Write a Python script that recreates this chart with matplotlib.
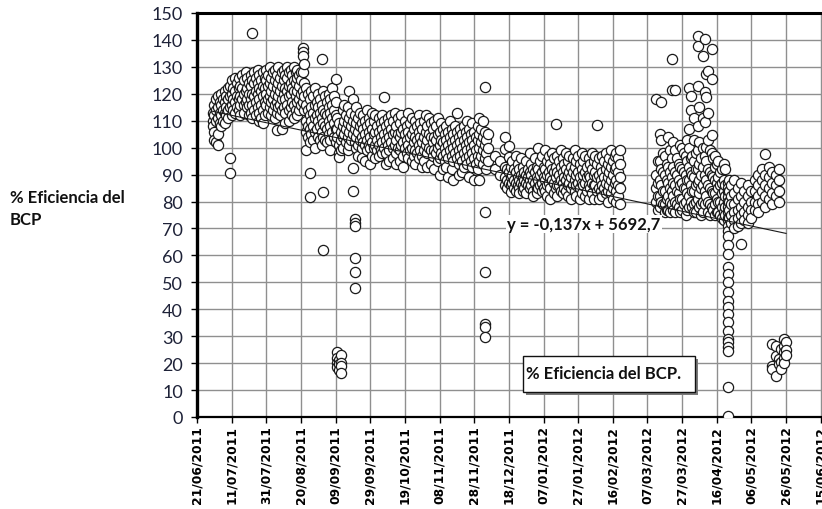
import numpy as np
import matplotlib
matplotlib.use("Agg")
import matplotlib.pyplot as plt
import matplotlib.dates as mdates
from matplotlib.patches import Rectangle

# ---- data: (days after 21/06/2011, [values of % efficiency]) ----
start_date = "2011-06-21"
tick_step_days = 20
n_ticks = 21

jul_2011 = [
    (9, [110, 113, 108]), (10, [116, 112, 106, 103]), (11, [118, 114, 110, 102]),
    (12, [119, 115, 111, 105, 101]), (13, [117, 113, 109]), (14, [120, 116, 112, 108]),
    (15, [118, 114, 110]), (16, [121, 117, 113, 109]), (17, [119, 115, 112]),
    (18, [122, 118, 114, 111]), (19, [123, 119, 115, 96, 90.5]), (20, [125, 120, 116, 112]),
    (21, [122, 118, 114]), (22, [126, 121, 117, 113]), (23, [124, 119, 115]),
    (24, [126, 122, 118, 114]), (25, [123, 119, 116, 112]), (26, [127, 122, 118]),
    (27, [125, 120, 116, 113]), (28, [128, 121, 117]), (29, [126, 122, 118, 115]),
    (30, [124, 120, 116, 112]),
]
aug_2011 = [
    (31, [127, 123, 118, 113]), (32, [142.5, 125, 120, 116, 111]), (33, [128, 124, 119, 114]),
    (34, [126, 121, 117, 112]), (35, [129, 124, 120, 115]), (36, [127, 122, 118, 113, 110]),
    (37, [125, 121, 116, 111]), (38, [128, 123, 119, 114, 109]), (39, [126, 122, 117, 112]),
    (40, [129, 125, 120, 116]), (41, [127, 123, 118, 113]), (42, [130, 124, 119, 115]),
    (43, [126, 121, 117, 112]), (44, [128, 123, 118, 114]), (45, [129, 125, 120, 116, 111]),
    (46, [127, 122, 117, 113, 106.5]), (47, [130, 124, 119, 115]), (48, [126, 121, 116, 112]),
    (49, [128, 123, 118, 114, 107]), (50, [129, 125, 120, 115]), (51, [127, 122, 118, 113, 109]),
    (52, [130, 126, 121, 116]), (53, [128, 123, 119, 114, 110]), (54, [129, 124, 120, 115]),
    (55, [127, 122, 117, 112]), (56, [130, 125, 121, 116, 111]), (57, [128, 124, 119, 114]),
    (58, [129, 126, 121, 117, 112]), (59, [127, 123, 118, 114]), (60, [128, 125, 120, 116]),
    (61, [137, 135.5, 134, 128, 121, 117]), (62, [131, 124, 119, 114]),
]
sep_2011 = [
    (63, [122, 116, 110, 106, 99]), (64, [120, 114, 108, 104]),
    (65, [118, 112, 107, 102, 90.6, 81.7]), (66, [121, 115, 110, 105]),
    (67, [119, 113, 108, 103]), (68, [122, 116, 111, 106, 100]), (69, [117, 112, 107]),
    (70, [120, 115, 110, 104]), (71, [118, 113, 108, 103]), (72, [133, 116, 111, 106, 101]),
    (73, [121, 114, 109, 104, 83.5, 62]), (74, [119, 113, 108, 103]), (75, [117, 112, 107, 102]),
    (76, [120, 115, 110, 105]), (77, [118, 113, 108, 103, 99]), (78, [122, 116, 111, 106]),
    (79, [119, 114, 109, 104]), (80, [125.5, 117, 112, 107, 102]),
    (81, [111, 107, 104, 24, 22, 20, 18.5]), (82, [109, 101, 98, 96.5, 21, 19.5, 17.5]),
    (83, [106, 103, 99, 23, 20, 19, 16.5]), (84, [114, 108, 104, 100]), (85, [116, 110, 105]),
    (86, [112, 107, 102]), (87, [115, 109, 104, 99]), (88, [121, 111, 106, 101]),
    (89, [113, 108, 103]), (90, [118, 110, 105, 92.5, 84]),
    (91, [112, 107, 102, 73.5, 72, 71, 59, 54, 48]), (92, [115, 109, 104, 100]),
]
oct_2011 = [
    (93, [111, 106, 101, 97]), (94, [113, 108, 103]), (95, [109, 104, 100, 96]),
    (96, [112, 107, 102]), (97, [110, 105, 101, 95]), (98, [114, 108, 103, 99]),
    (99, [111, 106, 101]), (100, [109, 104, 100, 94]), (101, [113, 107, 102, 97]),
    (102, [110, 105, 100]), (103, [112, 106, 101, 96]), (104, [108, 103, 99]),
    (105, [111, 106, 101, 97]), (106, [109, 104, 99]), (107, [112, 107, 102, 98]),
    (108, [118.8, 110, 105, 100]), (109, [108, 103, 98, 94]), (110, [111, 106, 101]),
    (111, [109, 104, 99, 95]), (112, [112, 107, 102]), (113, [110, 105, 100, 96]),
    (114, [113, 106, 101]), (115, [108, 103, 98, 94]), (116, [111, 105, 100]),
    (117, [109, 104, 99, 95]), (118, [112, 106, 101]), (119, [107, 102, 97, 93]),
    (120, [110, 105, 100]), (121, [108, 103, 98]), (122, [113, 106, 101, 96]),
    (123, [109, 104, 99]), (124, [111, 105, 100, 95]), (125, [107, 102, 97]),
    (126, [110, 104, 99, 94]), (127, [108, 103, 98]), (128, [112, 106, 101, 96]),
    (129, [109, 104, 99]), (130, [107, 102, 97, 93]),
]
nov_2011 = [
    (131, [110, 104, 99, 95]), (132, [112, 106, 101]), (133, [108, 103, 98, 93]),
    (134, [111, 105, 100]), (135, [109, 104, 99, 94]), (136, [107, 102, 97]),
    (137, [110, 104, 99, 92]), (138, [108, 103, 98]), (139, [111, 105, 100, 95]),
    (140, [106, 101, 96, 90]), (141, [109, 103, 98]), (142, [107, 102, 97, 92]),
    (143, [105, 100, 95]), (144, [108, 103, 98, 93]), (145, [106, 101, 96, 89]),
    (146, [110, 104, 99]), (147, [107, 102, 97, 92]), (148, [105, 100, 95, 88]),
    (149, [108, 103, 98]), (150, [113, 106, 101, 96]), (151, [104, 99, 94, 90]),
    (152, [107, 102, 97]), (153, [105, 100, 95, 91]), (154, [108, 103, 98, 93]),
    (155, [106, 101, 96]), (156, [110, 104, 99, 94]), (157, [107, 102, 97, 89]),
    (158, [105, 100, 95]), (159, [109, 103, 98, 93]), (160, [106, 101, 96, 88]),
    (161, [104, 99, 94]), (162, [108, 103, 97, 92]), (163, [111, 105, 100, 95, 88]),
    (164, [107, 102, 97]), (165, [110, 104, 99, 94]),
    (166, [122.5, 106, 101, 96, 76, 54, 34.5, 33.5, 29.7]),
    (167, [103, 98, 92]), (168, [105, 100, 95]), (172, [97, 92]), (175, [95, 90]),
]
dec_2011_feb_2012 = [
    (178, [104, 99.5, 93, 89, 86]), (179, [92, 88, 85]), (180, [100.6, 96.6, 91, 87]),
    (181, [93, 89, 86, 83.5]), (182, [95, 90, 87]), (183, [92, 88, 85]),
    (184, [97, 91, 87, 84]), (185, [94, 89, 86]), (186, [92, 88, 85, 83]),
    (187, [96, 90, 87]), (188, [93, 89, 86, 84]), (189, [91, 88, 85]),
    (190, [95, 90, 87, 83]), (191, [92, 89, 86]), (192, [98, 91, 88, 85]),
    (193, [94, 90, 86]), (194, [92, 88, 84, 82]), (195, [96, 91, 87]),
    (196, [93, 89, 85, 83]), (197, [100, 92, 88, 85]), (198, [95, 90, 86]),
    (199, [97, 91, 87, 84]), (200, [93, 89, 85]), (201, [99, 92, 88, 84]),
    (202, [95, 90, 86, 82]), (203, [97, 91, 87]), (204, [94, 89, 85, 81]),
    (205, [98, 92, 88]), (206, [96, 91, 87, 83]), (207, [108.8, 93, 89, 85]),
    (208, [97, 91, 86, 82]), (209, [95, 90, 86]), (210, [99, 93, 88, 84]),
    (211, [96, 91, 87, 83]), (212, [94, 89, 85]), (213, [98, 92, 88, 84]),
    (214, [95, 90, 86, 82]), (215, [97, 91, 87]), (216, [93, 89, 85, 81]),
    (217, [96, 91, 86]), (218, [99, 93, 88, 84]), (219, [95, 90, 86, 82]),
    (220, [97, 91, 87]), (221, [94, 89, 85, 81]), (222, [98, 92, 87, 83]),
    (223, [95, 90, 86]), (224, [97, 91, 87, 82]), (225, [93, 89, 84]),
    (226, [96, 90, 86, 81]), (227, [94, 89, 85]), (228, [98, 92, 87, 83]),
    (229, [95, 90, 86, 81]), (230, [97, 91, 86]), (231, [108.5, 94, 89, 84]),
    (232, [96, 90, 85, 81]), (233, [93, 88, 84]), (234, [97, 91, 86, 82]),
    (235, [95, 89, 85]), (236, [98, 92, 87, 83]), (237, [94, 89, 84, 80]),
    (238, [96, 91, 86]), (239, [99, 93, 88, 83]), (240, [95, 90, 85, 81]),
    (241, [97, 92, 87]), (242, [98, 93, 88, 84, 80]), (243, [96, 91, 86, 82]),
    (244, [99, 94, 89, 85, 79]),
]
mar_apr_2012 = [
    (265, [118, 90, 85, 80]), (266, [95, 87, 82, 77]), (267, [105, 95, 88, 82, 78]),
    (268, [117, 103, 92, 86, 80]), (269, [98, 91, 84, 79]),
    (270, [97, 90, 84, 79, 76]), (271, [94, 88, 81, 77]), (272, [104, 93, 87, 82, 77]),
    (273, [99, 91, 85, 80, 76]), (274, [133, 121.5, 96, 89, 84, 79]),
    (275, [102, 93, 87, 82, 77]), (276, [121.5, 99, 91, 86, 80, 76]),
    (277, [96, 90, 84, 79]), (278, [94, 88, 83, 78]), (279, [101, 93, 86, 81, 76]),
    (280, [100, 92, 87, 81, 77]), (281, [98, 91, 85, 79]), (282, [97, 90, 85, 80, 75]),
    (283, [103, 95, 88, 83, 77]),
    (284, [122, 107, 100, 93, 88, 82, 78]), (285, [119, 114, 96, 91, 86, 80]),
    (286, [97, 90, 84, 78]),
    (287, [111, 103, 95, 89, 84, 79, 76]), (288, [98, 92, 86, 80, 76]),
    (289, [141.5, 137.8, 123, 108, 99, 92, 87, 81]),
    (290, [115, 102, 94, 88, 83, 78]), (291, [96, 90, 85, 79, 75]),
    (292, [134, 111, 100, 93, 86, 80, 76]),
    (293, [140.4, 120.7, 109.5, 97, 90, 84, 79]), (294, [127.4, 118.8, 100.3, 95, 88, 82]),
    (295, [128.5, 113, 103, 92, 86, 80, 76]), (296, [99, 91, 85, 79, 75]),
    (297, [136.6, 125.5, 104.7, 98, 90, 84, 78]), (298, [96, 89, 83, 77]),
    (299, [97, 93, 88, 83, 79, 75]), (300, [94, 87, 81, 76]),
    (301, [95, 89, 85, 80, 76]), (302, [91, 86, 80, 75]), (303, [92, 87, 83, 78, 74]),
]
apr_may_2012 = [
    (304, [94, 88, 84, 80, 76, 73]), (305, [92, 86, 82, 78, 75]),
    (306.5, [87, 85, 83.5, 81.5, 79.7, 78, 76, 74, 73, 71, 69, 67.3, 64, 60.5, 55.6,
             53, 50, 46.3, 43.2, 40.7, 38.2, 35.2, 32, 29, 27.7, 26, 24.6, 11, 0.5]),
    (307, [88, 84, 80, 77, 74]), (308, [86, 82, 79, 75, 72]), (310, [88, 83, 79, 76, 73, 70]),
    (312, [85, 81, 77, 74, 71]), (314, [87, 82, 78, 75, 72, 64.2]), (316, [84, 80, 76, 73]),
    (318, [86, 82, 78, 75, 72]), (320, [84, 80, 77, 74]), (322, [88, 84, 80, 77]),
    (324, [90, 86, 82, 79, 76]), (326, [92, 88, 84, 80]), (328, [97.7, 90, 86, 82, 78]),
    (330, [92.8, 89, 85, 81]), (332, [91, 87, 83, 79, 27, 19, 17.8]),
    (334, [90, 86, 82, 26.4, 22.7, 15.2]), (336, [92, 88, 84, 80, 21.5, 19.5]),
    (337, [25.2, 20.4, 18]), (339, [29, 26.4, 24, 22, 20]), (340, [28, 25, 23]),
]

trend_slope = -0.137
trend_intercept = 5692.7
equation_text = "y = -0,137x + 5692,7"
legend_text = "% Eficiencia del BCP."
ylabel_text = "% Eficiencia del\nBCP"

# ---- build arrays ----
groups = [jul_2011, aug_2011, sep_2011, oct_2011, nov_2011,
          dec_2011_feb_2012, mar_apr_2012, apr_may_2012]
days, vals = [], []
for g in groups:
    for d, vs in g:
        for v in vs:
            days.append(d)
            vals.append(v)
days = np.array(days, dtype=float)
vals = np.array(vals, dtype=float)

base = mdates.date2num(np.datetime64(start_date))
xs = base + days
excel_epoch = mdates.date2num(np.datetime64("1899-12-30"))

# ---- figure ----
W, H = 822, 510
fig = plt.figure(figsize=(W / 100, H / 100), dpi=100)
left_px, right_px, bottom_px, top_px = 197, 860, 418, 14
ax = fig.add_axes([left_px / W, 1 - bottom_px / H,
                   (right_px - left_px) / W, (bottom_px - top_px) / H])

ax.grid(True, color="#8f8f8f", linewidth=1.0, zorder=0)
ax.set_axisbelow(True)

ax.scatter(xs, vals, s=54, facecolor="white", edgecolor="#1a1a1a",
           linewidths=0.9, zorder=3)

# trend line over the data range
tx = np.array([xs.min(), xs.max()])
ty = trend_slope * (tx - excel_epoch) + trend_intercept
ax.plot(tx, ty, color="#1a1a1a", linewidth=0.8, zorder=4)

ticks = base + tick_step_days * np.arange(n_ticks)
ax.set_xticks(ticks)
ax.xaxis.set_major_formatter(mdates.DateFormatter("%d/%m/%Y"))
ax.set_yticks(np.arange(0, 151, 10))

px_per_day = 623.7 / 360
ax.set_xlim(base, base + (right_px - left_px) / px_per_day)
ax.set_ylim(0, 150)

ax.spines["right"].set_visible(False)
ax.spines["left"].set_linewidth(2.4)
ax.spines["top"].set_linewidth(2.2)
ax.spines["bottom"].set_linewidth(1.6)

ax.tick_params(axis="y", length=4, width=1, pad=6, labelsize=13,
               labelcolor="#1e2238")
ax.tick_params(axis="x", length=4, width=1, pad=2, labelsize=8.8, rotation=90)
for lab in ax.get_yticklabels():
    lab.set_fontfamily("Lato")
for lab in ax.get_xticklabels():
    lab.set_fontweight("bold")
    lab.set_fontfamily("DejaVu Sans")

# y label
fig.text(10 / W, 1 - 209 / H, ylabel_text, ha="left", va="center",
         fontsize=12, fontweight="bold", family="Lato", linespacing=1.5,
         color="#111111")

# equation
fig.text(584 / W, 1 - 225 / H, equation_text, ha="center", va="center",
         fontsize=12, fontweight="bold", family="Lato", color="#111111",
         bbox=dict(facecolor="white", edgecolor="none", pad=1.0), zorder=6)

# legend box with shadow
bx0, bx1, by0, by1 = 523, 695, 357, 393
fig.patches.append(Rectangle(((bx0 + 3) / W, 1 - (by1 + 3) / H), (bx1 - bx0) / W,
                             (by1 - by0) / H, transform=fig.transFigure,
                             facecolor="#7a7a7a", edgecolor="none", zorder=5))
fig.patches.append(Rectangle((bx0 / W, 1 - by1 / H), (bx1 - bx0) / W,
                             (by1 - by0) / H, transform=fig.transFigure,
                             facecolor="white", edgecolor="#111111",
                             linewidth=1.0, zorder=6))
fig.text(526 / W, 1 - 374 / H, legend_text, ha="left", va="center",
         fontsize=12, fontweight="bold", family="Lato", color="#111111", zorder=7)

fig.savefig("out.png", dpi=100)
